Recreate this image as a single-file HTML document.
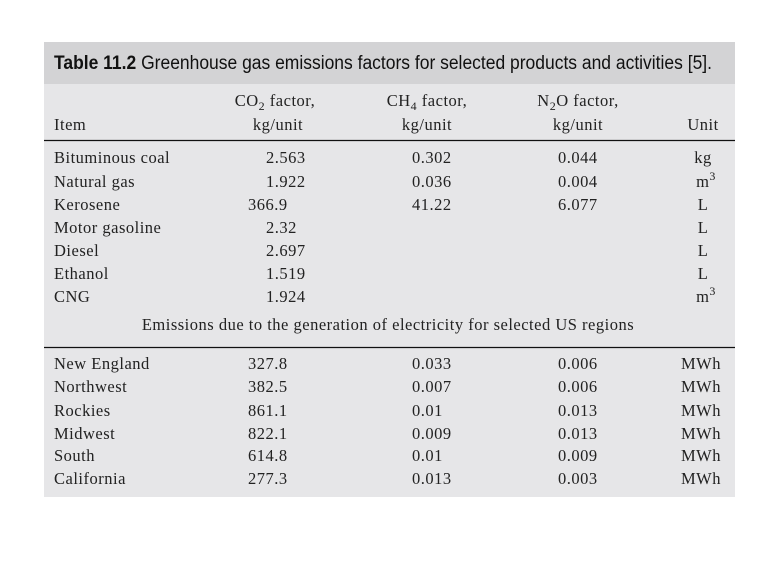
<!DOCTYPE html>
<html><head><meta charset="utf-8"><style>
html,body{margin:0;padding:0;background:#fff;width:778px;height:564px;overflow:hidden}
svg{display:block}
.s{font-family:"Liberation Serif",serif;font-size:16.5px;letter-spacing:0.5px;fill:#222}
.t{font-family:"Liberation Sans",sans-serif;font-size:19px;fill:#111}
</style></head><body>
<svg width="778" height="564" viewBox="0 0 778 564">
<rect x="44" y="42" width="691" height="455" fill="#e6e6e8"/>
<rect x="44" y="42" width="691" height="42" fill="#d3d3d5"/>
<text class="t" x="54" y="69" textLength="658" lengthAdjust="spacingAndGlyphs"><tspan font-weight="bold">Table 11.2</tspan>  Greenhouse gas emissions factors for selected products and activities [5].</text>
<line x1="44" x2="735" y1="140.5" y2="140.5" stroke="#111" stroke-width="1.2"/>
<line x1="44" x2="735" y1="347.5" y2="347.5" stroke="#111" stroke-width="1.2"/>
<g class="s">
<text x="275" y="106" text-anchor="middle">CO<tspan font-size="12" dy="4">2</tspan><tspan dy="-4"> factor,</tspan></text>
<text x="278" y="130" text-anchor="middle">kg/unit</text>
<text x="427" y="106" text-anchor="middle">CH<tspan font-size="12" dy="4">4</tspan><tspan dy="-4"> factor,</tspan></text>
<text x="427" y="130" text-anchor="middle">kg/unit</text>
<text x="578" y="106" text-anchor="middle">N<tspan font-size="12" dy="4">2</tspan><tspan dy="-4">O factor,</tspan></text>
<text x="578" y="130" text-anchor="middle">kg/unit</text>
<text x="54" y="130">Item</text>
<text x="703" y="130" text-anchor="middle">Unit</text>

<text x="54" y="163">Bituminous coal</text><text x="266" y="163">2.563</text><text x="412" y="163">0.302</text><text x="558" y="163">0.044</text><text x="703" y="163" text-anchor="middle">kg</text>
<text x="54" y="187">Natural gas</text><text x="266" y="187">1.922</text><text x="412" y="187">0.036</text><text x="558" y="187">0.004</text><text x="706" y="187" text-anchor="middle">m<tspan font-size="12" dy="-7">3</tspan></text>
<text x="54" y="210">Kerosene</text><text x="248" y="210">366.9</text><text x="412" y="210">41.22</text><text x="558" y="210">6.077</text><text x="703" y="210" text-anchor="middle">L</text>
<text x="54" y="233">Motor gasoline</text><text x="266" y="233">2.32</text><text x="703" y="233" text-anchor="middle">L</text>
<text x="54" y="256">Diesel</text><text x="266" y="256">2.697</text><text x="703" y="256" text-anchor="middle">L</text>
<text x="54" y="279">Ethanol</text><text x="266" y="279">1.519</text><text x="703" y="279" text-anchor="middle">L</text>
<text x="54" y="302">CNG</text><text x="266" y="302">1.924</text><text x="706" y="302" text-anchor="middle">m<tspan font-size="12" dy="-7">3</tspan></text>
<text x="388" y="330" text-anchor="middle">Emissions due to the generation of electricity for selected US regions</text>

<text x="54" y="369">New England</text><text x="248" y="369">327.8</text><text x="412" y="369">0.033</text><text x="558" y="369">0.006</text><text x="721" y="369" text-anchor="end">MWh</text>
<text x="54" y="392">Northwest</text><text x="248" y="392">382.5</text><text x="412" y="392">0.007</text><text x="558" y="392">0.006</text><text x="721" y="392" text-anchor="end">MWh</text>
<text x="54" y="416">Rockies</text><text x="248" y="416">861.1</text><text x="412" y="416">0.01</text><text x="558" y="416">0.013</text><text x="721" y="416" text-anchor="end">MWh</text>
<text x="54" y="439">Midwest</text><text x="248" y="439">822.1</text><text x="412" y="439">0.009</text><text x="558" y="439">0.013</text><text x="721" y="439" text-anchor="end">MWh</text>
<text x="54" y="461">South</text><text x="248" y="461">614.8</text><text x="412" y="461">0.01</text><text x="558" y="461">0.009</text><text x="721" y="461" text-anchor="end">MWh</text>
<text x="54" y="484">California</text><text x="248" y="484">277.3</text><text x="412" y="484">0.013</text><text x="558" y="484">0.003</text><text x="721" y="484" text-anchor="end">MWh</text>
</g>
</svg>
</body></html>
